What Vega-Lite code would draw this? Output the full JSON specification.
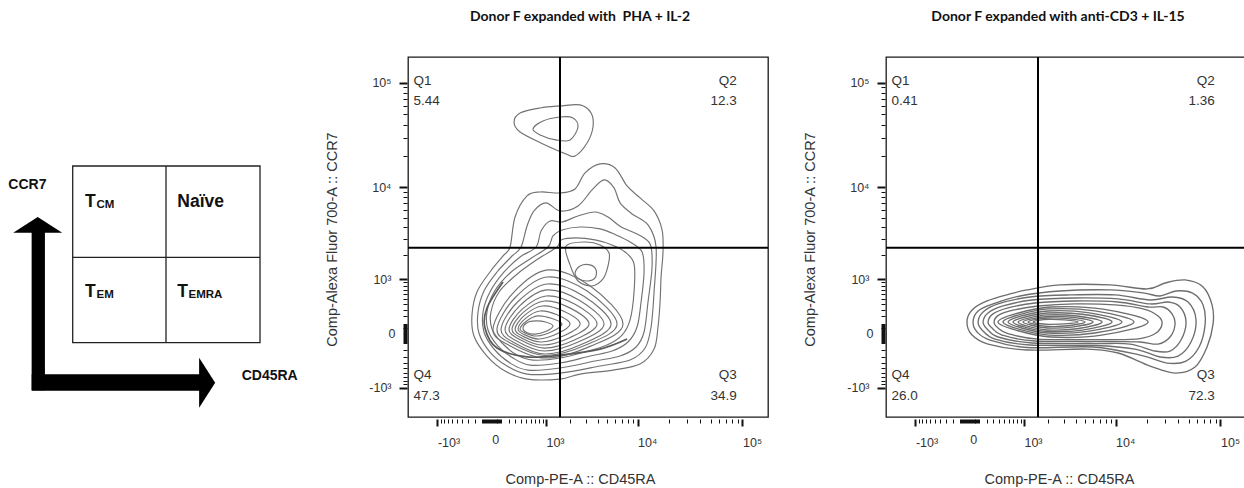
{
"$schema": "https://vega.github.io/schema/vega-lite/v6.json",
"background": "white",
"padding": {"left": 0, "top": 8, "right": 0, "bottom": 0},
"bounds": "flush",
"spacing": 118,
"config": {"font": "Liberation Sans", "view": {"stroke": "#1a1a1a", "strokeWidth": 1.3}},
"datasets": {
"schem": [
{"k":"box","x":25.07,"x2":89.66,"y":20.64,"y2":69.72},
{"k":"div","x":57.24,"x2":57.24,"y":20.64,"y2":69.72},
{"k":"div","x":25.07,"x2":89.66,"y":44.36,"y2":44.36},
{"k":"vbar","x":13.2,"x2":13.2,"y":7.42,"y2":51.4},
{"k":"hbar","x":10.93,"x2":68.97,"y":9.6,"y2":9.6},
{"k":"headUp","x":13.0,"y":53.37},
{"k":"headRight","x":71.43,"y":9.5},
{"k":"big","t":"T","x":29.31,"y":58.33},
{"k":"sub","t":"CM","x":33.28,"y":58.06},
{"k":"big","t":"Naïve","x":61.14,"y":58.33},
{"k":"big","t":"T","x":29.31,"y":33.33},
{"k":"sub","t":"EM","x":33.28,"y":32.92},
{"k":"big","t":"T","x":61.14,"y":33.33},
{"k":"sub","t":"EMRA","x":65.0,"y":32.92},
{"k":"lab","t":"CCR7","x":2.86,"y":63.25},
{"k":"lab","t":"CD45RA","x":83.34,"y":10.19}
],
"gates": [{"d":"x","x":1514},{"d":"y","y":2402}],
"quad": [
{"p":"pha","s":"l","t":"Q1","x":-1977,"y":94140},
{"p":"pha","s":"l","t":"5.44","x":-1977,"y":61010},
{"p":"pha","s":"r","t":"Q2","x":88200,"y":94140},
{"p":"pha","s":"r","t":"12.3","x":88200,"y":61010},
{"p":"pha","s":"l","t":"Q4","x":-1977,"y":-746},
{"p":"pha","s":"l","t":"47.3","x":-1977,"y":-1456},
{"p":"pha","s":"r","t":"Q3","x":88200,"y":-746},
{"p":"pha","s":"r","t":"34.9","x":88200,"y":-1456},
{"p":"cd3","s":"l","t":"Q1","x":-1977,"y":94140},
{"p":"cd3","s":"l","t":"0.41","x":-1977,"y":61010},
{"p":"cd3","s":"r","t":"Q2","x":88200,"y":94140},
{"p":"cd3","s":"r","t":"1.36","x":88200,"y":61010},
{"p":"cd3","s":"l","t":"Q4","x":-1977,"y":-746},
{"p":"cd3","s":"l","t":"26.0","x":-1977,"y":-1456},
{"p":"cd3","s":"r","t":"Q3","x":88200,"y":-746},
{"p":"cd3","s":"r","t":"72.3","x":88200,"y":-1456}
],
"p1open": [
{"c":"cres","i":1,"x":125,"y":911},{"c":"cres","i":2,"x":-48,"y":328},{"c":"cres","i":3,"x":-70,"y":55},{"c":"cres","i":4,"x":55,"y":-168},{"c":"cres","i":5,"x":515,"y":-299},{"c":"cres","i":6,"x":1517,"y":-269},{"c":"cres","i":7,"x":4210,"y":-182},{"c":"cres","i":8,"x":7886,"y":-59}
],
"p1": [
{"c":"L1","i":1,"x":219,"y":2446},{"c":"L1","i":2,"x":295,"y":5079},{"c":"L1","i":3,"x":515,"y":8254},{"c":"L1","i":4,"x":828,"y":9029},{"c":"L1","i":5,"x":1517,"y":8835},{"c":"L1","i":6,"x":2268,"y":9676},{"c":"L1","i":7,"x":2922,"y":13842},{"c":"L1","i":8,"x":4210,"y":16912},{"c":"L1","i":9,"x":5989,"y":15469},{"c":"L1","i":10,"x":7886,"y":10348},{"c":"L1","i":11,"x":10589,"y":7886},{"c":"L1","i":12,"x":14472,"y":5849},{"c":"L1","i":13,"x":17282,"y":3733},{"c":"L1","i":14,"x":17652,"y":2150},{"c":"L1","i":15,"x":16912,"y":1066},{"c":"L1","i":16,"x":16541,"y":434},{"c":"L1","i":17,"x":15801,"y":66},{"c":"L1","i":18,"x":14472,"y":-182},{"c":"L1","i":19,"x":10589,"y":-423},{"c":"L1","i":20,"x":5709,"y":-544},{"c":"L1","i":21,"x":2578,"y":-633},{"c":"L1","i":22,"x":1517,"y":-756},{"c":"L1","i":23,"x":515,"y":-756},{"c":"L1","i":24,"x":151,"y":-565},{"c":"L1","i":25,"x":-48,"y":-284},{"c":"L1","i":26,"x":-209,"y":-27},{"c":"L1","i":27,"x":-238,"y":219},{"c":"L1","i":28,"x":-168,"y":647},{"c":"L1","i":29,"x":-17,"y":1239},{"c":"L1","i":30,"x":125,"y":1937},
{"c":"L2","i":1,"x":398,"y":2446},{"c":"L2","i":2,"x":515,"y":4108},{"c":"L2","i":3,"x":672,"y":5849},{"c":"L2","i":4,"x":1004,"y":7035},{"c":"L2","i":5,"x":1517,"y":5849},{"c":"L2","i":6,"x":2446,"y":6566},{"c":"L2","i":7,"x":3469,"y":9461},{"c":"L2","i":8,"x":4627,"y":11846},{"c":"L2","i":9,"x":5849,"y":9892},{"c":"L2","i":10,"x":6722,"y":7035},{"c":"L2","i":11,"x":8835,"y":5457},{"c":"L2","i":12,"x":12649,"y":4210},{"c":"L2","i":13,"x":15137,"y":2446},{"c":"L2","i":14,"x":14472,"y":647},{"c":"L2","i":15,"x":13544,"y":66},{"c":"L2","i":16,"x":11846,"y":-168},{"c":"L2","i":17,"x":8448,"y":-351},{"c":"L2","i":18,"x":4210,"y":-461},{"c":"L2","i":19,"x":1517,"y":-610},{"c":"L2","i":20,"x":515,"y":-633},{"c":"L2","i":21,"x":177,"y":-461},{"c":"L2","i":22,"x":-17,"y":-223},{"c":"L2","i":23,"x":-142,"y":3},{"c":"L2","i":24,"x":-154,"y":263},{"c":"L2","i":25,"x":-81,"y":672},{"c":"L2","i":26,"x":55,"y":1239},{"c":"L2","i":27,"x":234,"y":1884},
{"c":"L3","i":1,"x":722,"y":2446},{"c":"L3","i":2,"x":855,"y":3642},{"c":"L3","i":3,"x":1135,"y":4627},{"c":"L3","i":4,"x":1602,"y":4514},{"c":"L3","i":5,"x":2446,"y":5205},{"c":"L3","i":6,"x":3733,"y":5709},{"c":"L3","i":7,"x":5079,"y":5079},{"c":"L3","i":8,"x":6879,"y":4007},{"c":"L3","i":9,"x":9892,"y":3387},{"c":"L3","i":10,"x":13245,"y":2643},{"c":"L3","i":11,"x":13842,"y":1431},{"c":"L3","i":12,"x":12649,"y":434},{"c":"L3","i":13,"x":11578,"y":13},{"c":"L3","i":14,"x":9676,"y":-154},{"c":"L3","i":15,"x":6722,"y":-284},{"c":"L3","i":16,"x":3733,"y":-368},{"c":"L3","i":17,"x":1517,"y":-501},{"c":"L3","i":18,"x":535,"y":-544},{"c":"L3","i":19,"x":219,"y":-404},{"c":"L3","i":20,"x":24,"y":-182},{"c":"L3","i":21,"x":-81,"y":13},{"c":"L3","i":22,"x":-92,"y":263},{"c":"L3","i":23,"x":-17,"y":647},{"c":"L3","i":24,"x":138,"y":1239},{"c":"L3","i":25,"x":380,"y":1884},
{"c":"L4","i":1,"x":1066,"y":2446},{"c":"L4","i":2,"x":1239,"y":3224},{"c":"L4","i":3,"x":1602,"y":3733},{"c":"L4","i":4,"x":2578,"y":4007},{"c":"L4","i":5,"x":4210,"y":3825},{"c":"L4","i":6,"x":6130,"y":3306},{"c":"L4","i":7,"x":8448,"y":2775},{"c":"L4","i":8,"x":11070,"y":2150},{"c":"L4","i":9,"x":11578,"y":1239},{"c":"L4","i":10,"x":10829,"y":434},{"c":"L4","i":11,"x":9892,"y":66},{"c":"L4","i":12,"x":8060,"y":-92},{"c":"L4","i":13,"x":5583,"y":-209},{"c":"L4","i":14,"x":3306,"y":-284},{"c":"L4","i":15,"x":1517,"y":-404},{"c":"L4","i":16,"x":580,"y":-442},{"c":"L4","i":17,"x":263,"y":-316},{"c":"L4","i":18,"x":66,"y":-142},{"c":"L4","i":19,"x":-37,"y":34},{"c":"L4","i":20,"x":-48,"y":263},{"c":"L4","i":21,"x":24,"y":647},{"c":"L4","i":22,"x":219,"y":1204},{"c":"L4","i":23,"x":580,"y":1788},
{"c":"L5","i":1,"x":1393,"y":2446},{"c":"L5","i":2,"x":1559,"y":2922},{"c":"L5","i":3,"x":2328,"y":3069},{"c":"L5","i":4,"x":3733,"y":2922},{"c":"L5","i":5,"x":5583,"y":2578},{"c":"L5","i":6,"x":7539,"y":2150},{"c":"L5","i":7,"x":9245,"y":1559},{"c":"L5","i":8,"x":9245,"y":647},{"c":"L5","i":9,"x":8448,"y":151},{"c":"L5","i":10,"x":7035,"y":-17},{"c":"L5","i":11,"x":4966,"y":-129},{"c":"L5","i":12,"x":3142,"y":-209},{"c":"L5","i":13,"x":1517,"y":-316},{"c":"L5","i":14,"x":647,"y":-351},{"c":"L5","i":15,"x":328,"y":-269},{"c":"L5","i":16,"x":113,"y":-104},{"c":"L5","i":17,"x":3,"y":45},{"c":"L5","i":18,"x":-7,"y":263},{"c":"L5","i":19,"x":78,"y":647},{"c":"L5","i":20,"x":312,"y":1135},{"c":"L5","i":21,"x":772,"y":1788},
{"c":"L6","i":1,"x":1788,"y":2512},{"c":"L6","i":2,"x":2922,"y":2775},{"c":"L6","i":3,"x":4210,"y":2578},{"c":"L6","i":4,"x":5205,"y":2097},{"c":"L6","i":5,"x":5079,"y":1474},{"c":"L6","i":6,"x":4514,"y":1004},{"c":"L6","i":7,"x":3469,"y":800},{"c":"L6","i":8,"x":2446,"y":942},{"c":"L6","i":9,"x":1990,"y":1517},
{"c":"isl","i":1,"x":2268,"y":1204},{"c":"isl","i":2,"x":2578,"y":1474},{"c":"isl","i":3,"x":3306,"y":1517},{"c":"isl","i":4,"x":3825,"y":1316},{"c":"isl","i":5,"x":3733,"y":1035},{"c":"isl","i":6,"x":3142,"y":942},{"c":"isl","i":7,"x":2512,"y":1004},
{"c":"top1","i":1,"x":279,"y":42435},{"c":"top1","i":2,"x":380,"y":51667},{"c":"top1","i":3,"x":828,"y":57600},{"c":"top1","i":4,"x":1517,"y":60160},{"c":"top1","i":5,"x":2578,"y":61509},{"c":"top1","i":6,"x":3387,"y":51667},{"c":"top1","i":7,"x":3551,"y":38052},{"c":"top1","i":8,"x":3069,"y":26842},{"c":"top1","i":9,"x":2268,"y":20171},{"c":"top1","i":10,"x":1788,"y":21089},{"c":"top1","i":11,"x":911,"y":26273},{"c":"top1","i":12,"x":380,"y":34117},
{"c":"top2","i":1,"x":647,"y":36478},{"c":"top2","i":2,"x":911,"y":43412},{"c":"top2","i":3,"x":1517,"y":47318},{"c":"top2","i":4,"x":2150,"y":46341},{"c":"top2","i":5,"x":2446,"y":38052},{"c":"top2","i":6,"x":1990,"y":28680},{"c":"top2","i":7,"x":1354,"y":28680},{"c":"top2","i":8,"x":828,"y":31997},
{"c":"r10","i":1,"x":13,"y":45},{"c":"r10","i":2,"x":256,"y":611},{"c":"r10","i":3,"x":1054,"y":1316},{"c":"r10","i":4,"x":3347,"y":794},{"c":"r10","i":5,"x":7191,"y":101},{"c":"r10","i":6,"x":3347,"y":-143},{"c":"r10","i":7,"x":973,"y":-316},{"c":"r10","i":8,"x":199,"y":-129},
{"c":"r9","i":1,"x":55,"y":45},{"c":"r9","i":2,"x":295,"y":519},{"c":"r9","i":3,"x":1047,"y":1066},{"c":"r9","i":4,"x":3069,"y":670},{"c":"r9","i":5,"x":6270,"y":101},{"c":"r9","i":6,"x":3069,"y":-123},{"c":"r9","i":7,"x":973,"y":-276},{"c":"r9","i":8,"x":240,"y":-112},
{"c":"r8","i":1,"x":101,"y":45},{"c":"r8","i":2,"x":336,"y":434},{"c":"r8","i":3,"x":1041,"y":855},{"c":"r8","i":4,"x":2812,"y":557},{"c":"r8","i":5,"x":5457,"y":101},{"c":"r8","i":6,"x":2812,"y":-111},{"c":"r8","i":7,"x":973,"y":-253},{"c":"r8","i":8,"x":282,"y":-101},
{"c":"r7","i":1,"x":151,"y":45},{"c":"r7","i":2,"x":378,"y":369},{"c":"r7","i":3,"x":1023,"y":697},{"c":"r7","i":4,"x":2528,"y":470},{"c":"r7","i":5,"x":4627,"y":101},{"c":"r7","i":6,"x":2528,"y":-87},{"c":"r7","i":7,"x":961,"y":-209},{"c":"r7","i":8,"x":326,"y":-82},
{"c":"r6","i":1,"x":205,"y":45},{"c":"r6","i":2,"x":420,"y":308},{"c":"r6","i":3,"x":1004,"y":557},{"c":"r6","i":4,"x":2268,"y":391},{"c":"r6","i":5,"x":3916,"y":101},{"c":"r6","i":6,"x":2268,"y":-66},{"c":"r6","i":7,"x":948,"y":-168},{"c":"r6","i":8,"x":373,"y":-64},
{"c":"r5","i":1,"x":248,"y":45},{"c":"r5","i":2,"x":445,"y":260},{"c":"r5","i":3,"x":951,"y":454},{"c":"r5","i":4,"x":1977,"y":329},{"c":"r5","i":5,"x":3224,"y":101},{"c":"r5","i":6,"x":1977,"y":-44},{"c":"r5","i":7,"x":905,"y":-129},{"c":"r5","i":8,"x":402,"y":-46},
{"c":"r4","i":1,"x":295,"y":45},{"c":"r4","i":2,"x":469,"y":216},{"c":"r4","i":3,"x":892,"y":362},{"c":"r4","i":4,"x":1681,"y":273},{"c":"r4","i":5,"x":2578,"y":101},{"c":"r4","i":6,"x":1681,"y":-24},{"c":"r4","i":7,"x":855,"y":-92},{"c":"r4","i":8,"x":430,"y":-29},
{"c":"r3","i":1,"x":344,"y":45},{"c":"r3","i":2,"x":491,"y":174},{"c":"r3","i":3,"x":822,"y":279},{"c":"r3","i":4,"x":1393,"y":221},{"c":"r3","i":5,"x":1990,"y":101},{"c":"r3","i":6,"x":1393,"y":-5},{"c":"r3","i":7,"x":794,"y":-59},{"c":"r3","i":8,"x":459,"y":-12},
{"c":"r2","i":1,"x":380,"y":45},{"c":"r2","i":2,"x":501,"y":135},{"c":"r2","i":3,"x":762,"y":205},{"c":"r2","i":4,"x":1187,"y":172},{"c":"r2","i":5,"x":1602,"y":101},{"c":"r2","i":6,"x":1187,"y":15},{"c":"r2","i":7,"x":742,"y":-27},{"c":"r2","i":8,"x":474,"y":4},
{"c":"r1","i":1,"x":434,"y":55},{"c":"r1","i":2,"x":525,"y":119},{"c":"r1","i":3,"x":712,"y":138},{"c":"r1","i":4,"x":989,"y":125},{"c":"r1","i":5,"x":1239,"y":78},{"c":"r1","i":6,"x":989,"y":18},{"c":"r1","i":7,"x":697,"y":-7},{"c":"r1","i":8,"x":507,"y":8}
],
"p2": [
{"c":"R1","i":1,"x":-27,"y":125},{"c":"R1","i":2,"x":24,"y":295},{"c":"R1","i":3,"x":205,"y":454},{"c":"R1","i":4,"x":625,"y":602},{"c":"R1","i":5,"x":1101,"y":697},{"c":"R1","i":6,"x":2709,"y":828},{"c":"R1","i":7,"x":8835,"y":828},{"c":"R1","i":8,"x":20171,"y":722},{"c":"R1","i":9,"x":29949,"y":883},{"c":"R1","i":10,"x":46341,"y":973},{"c":"R1","i":11,"x":68562,"y":772},{"c":"R1","i":12,"x":83306,"y":380},{"c":"R1","i":13,"x":85171,"y":101},{"c":"R1","i":14,"x":74745,"y":-154},{"c":"R1","i":15,"x":57600,"y":-480},{"c":"R1","i":16,"x":37265,"y":-610},{"c":"R1","i":17,"x":21548,"y":-461},{"c":"R1","i":18,"x":10589,"y":-238},{"c":"R1","i":19,"x":5205,"y":-182},{"c":"R1","i":20,"x":1101,"y":-195},{"c":"R1","i":21,"x":219,"y":-117},{"c":"R1","i":22,"x":24,"y":-17},
{"c":"R2","i":1,"x":34,"y":125},{"c":"R2","i":2,"x":90,"y":279},{"c":"R2","i":3,"x":295,"y":398},{"c":"R2","i":4,"x":883,"y":557},{"c":"R2","i":5,"x":2709,"y":672},{"c":"R2","i":6,"x":8835,"y":697},{"c":"R2","i":7,"x":18476,"y":625},{"c":"R2","i":8,"x":26842,"y":557},{"c":"R2","i":9,"x":38052,"y":672},{"c":"R2","i":10,"x":53965,"y":625},{"c":"R2","i":11,"x":68562,"y":380},{"c":"R2","i":12,"x":71568,"y":90},{"c":"R2","i":13,"x":62858,"y":-154},{"c":"R2","i":14,"x":47318,"y":-368},{"c":"R2","i":15,"x":31290,"y":-404},{"c":"R2","i":16,"x":17282,"y":-269},{"c":"R2","i":17,"x":5989,"y":-154},{"c":"R2","i":18,"x":1101,"y":-161},{"c":"R2","i":19,"x":248,"y":-70},{"c":"R2","i":20,"x":78,"y":13},
{"c":"R3","i":1,"x":90,"y":125},{"c":"R3","i":2,"x":151,"y":263},{"c":"R3","i":3,"x":380,"y":398},{"c":"R3","i":4,"x":1204,"y":535},{"c":"R3","i":5,"x":3469,"y":580},{"c":"R3","i":6,"x":9892,"y":580},{"c":"R3","i":7,"x":21548,"y":474},{"c":"R3","i":8,"x":34904,"y":535},{"c":"R3","i":9,"x":49492,"y":434},{"c":"R3","i":10,"x":58811,"y":151},{"c":"R3","i":11,"x":52754,"y":-92},{"c":"R3","i":12,"x":39805,"y":-284},{"c":"R3","i":13,"x":26842,"y":-299},{"c":"R3","i":14,"x":15469,"y":-182},{"c":"R3","i":15,"x":6270,"y":-135},{"c":"R3","i":16,"x":1204,"y":-129},{"c":"R3","i":17,"x":328,"y":-59},{"c":"R3","i":18,"x":138,"y":34},
{"c":"R4","i":1,"x":151,"y":125},{"c":"R4","i":2,"x":219,"y":248},{"c":"R4","i":3,"x":474,"y":362},{"c":"R4","i":4,"x":1277,"y":474},{"c":"R4","i":5,"x":3916,"y":515},{"c":"R4","i":6,"x":10589,"y":495},{"c":"R4","i":7,"x":21548,"y":398},{"c":"R4","i":8,"x":31997,"y":434},{"c":"R4","i":9,"x":41558,"y":344},{"c":"R4","i":10,"x":47318,"y":125},{"c":"R4","i":11,"x":42435,"y":-70},{"c":"R4","i":12,"x":33410,"y":-209},{"c":"R4","i":13,"x":24053,"y":-209},{"c":"R4","i":14,"x":13842,"y":-117},{"c":"R4","i":15,"x":6270,"y":-111},{"c":"R4","i":16,"x":1277,"y":-104},{"c":"R4","i":17,"x":380,"y":-37},{"c":"R4","i":18,"x":205,"y":45},
{"c":"R5","i":1,"x":219,"y":125},{"c":"R5","i":2,"x":295,"y":234},{"c":"R5","i":3,"x":580,"y":328},{"c":"R5","i":4,"x":1393,"y":416},{"c":"R5","i":5,"x":3916,"y":454},{"c":"R5","i":6,"x":10589,"y":434},{"c":"R5","i":7,"x":20630,"y":344},{"c":"R5","i":8,"x":28680,"y":344},{"c":"R5","i":9,"x":34904,"y":234},{"c":"R5","i":10,"x":37265,"y":101},{"c":"R5","i":11,"x":33410,"y":-37},{"c":"R5","i":12,"x":25703,"y":-117},{"c":"R5","i":13,"x":17282,"y":-92},{"c":"R5","i":14,"x":8835,"y":-87},{"c":"R5","i":15,"x":1393,"y":-81},{"c":"R5","i":16,"x":454,"y":-17},{"c":"R5","i":17,"x":279,"y":55},
{"c":"R6","i":1,"x":312,"y":125},{"c":"R6","i":2,"x":398,"y":219},{"c":"R6","i":3,"x":722,"y":295},{"c":"R6","i":4,"x":1517,"y":362},{"c":"R6","i":5,"x":3916,"y":398},{"c":"R6","i":6,"x":9892,"y":380},{"c":"R6","i":7,"x":18476,"y":312},{"c":"R6","i":8,"x":25703,"y":205},{"c":"R6","i":9,"x":28046,"y":101},{"c":"R6","i":10,"x":24564,"y":3},{"c":"R6","i":11,"x":17282,"y":-54},{"c":"R6","i":12,"x":8835,"y":-65},{"c":"R6","i":13,"x":1517,"y":-59},{"c":"R6","i":14,"x":580,"y":-2},{"c":"R6","i":15,"x":380,"y":55},
{"c":"R7","i":1,"x":380,"y":125},{"c":"R7","i":2,"x":772,"y":237},{"c":"R7","i":3,"x":2123,"y":344},{"c":"R7","i":4,"x":7539,"y":308},{"c":"R7","i":5,"x":20630,"y":125},{"c":"R7","i":6,"x":7539,"y":-15},{"c":"R7","i":7,"x":2123,"y":-37},{"c":"R7","i":8,"x":772,"y":32},
{"c":"R8","i":1,"x":474,"y":125},{"c":"R8","i":2,"x":847,"y":221},{"c":"R8","i":3,"x":2038,"y":312},{"c":"R8","i":4,"x":6228,"y":280},{"c":"R8","i":5,"x":15137,"y":125},{"c":"R8","i":6,"x":6228,"y":3},{"c":"R8","i":7,"x":2038,"y":-17},{"c":"R8","i":8,"x":847,"y":43},
{"c":"R9","i":1,"x":580,"y":125},{"c":"R9","i":2,"x":933,"y":205},{"c":"R9","i":3,"x":1985,"y":279},{"c":"R9","i":4,"x":5306,"y":254},{"c":"R9","i":5,"x":11578,"y":125},{"c":"R9","i":6,"x":5306,"y":20},{"c":"R9","i":7,"x":1985,"y":3},{"c":"R9","i":8,"x":933,"y":55},
{"c":"R10","i":1,"x":697,"y":125},{"c":"R10","i":2,"x":1032,"y":190},{"c":"R10","i":3,"x":1972,"y":248},{"c":"R10","i":4,"x":4661,"y":229},{"c":"R10","i":5,"x":9245,"y":125},{"c":"R10","i":6,"x":4661,"y":33},{"c":"R10","i":7,"x":1972,"y":18},{"c":"R10","i":8,"x":1032,"y":64},
{"c":"R11","i":1,"x":828,"y":125},{"c":"R11","i":2,"x":1139,"y":175},{"c":"R11","i":3,"x":1958,"y":219},{"c":"R11","i":4,"x":4088,"y":204},{"c":"R11","i":5,"x":7365,"y":125},{"c":"R11","i":6,"x":4088,"y":47},{"c":"R11","i":7,"x":1958,"y":34},{"c":"R11","i":8,"x":1139,"y":73},
{"c":"R12","i":1,"x":973,"y":125},{"c":"R12","i":2,"x":1254,"y":164},{"c":"R12","i":3,"x":1964,"y":197},{"c":"R12","i":4,"x":3642,"y":186},{"c":"R12","i":5,"x":5989,"y":125},{"c":"R12","i":6,"x":3642,"y":65},{"c":"R12","i":7,"x":1964,"y":55},{"c":"R12","i":8,"x":1254,"y":86},
{"c":"R13","i":1,"x":1135,"y":125},{"c":"R13","i":2,"x":1385,"y":154},{"c":"R13","i":3,"x":1990,"y":177},{"c":"R13","i":4,"x":3297,"y":169},{"c":"R13","i":5,"x":4966,"y":125},{"c":"R13","i":6,"x":3297,"y":80},{"c":"R13","i":7,"x":1990,"y":72},{"c":"R13","i":8,"x":1385,"y":96},
{"c":"R14","i":1,"x":1316,"y":125},{"c":"R14","i":2,"x":1534,"y":146},{"c":"R14","i":3,"x":2030,"y":158},{"c":"R14","i":4,"x":3032,"y":152},{"c":"R14","i":5,"x":4210,"y":125},{"c":"R14","i":6,"x":3032,"y":101},{"c":"R14","i":7,"x":2030,"y":96},{"c":"R14","i":8,"x":1534,"y":106}
]
},
"hconcat": [
{
"width": 290, "height": 360,
"view": {"stroke": null},
"data": {"name": "schem"},
"encoding": {
"x": {"field": "x", "type": "quantitative", "scale": {"domain": [0, 100], "nice": false, "zero": false}, "axis": null},
"y": {"field": "y", "type": "quantitative", "scale": {"domain": [0, 100], "nice": false, "zero": false}, "axis": null}
},
"layer": [
{"transform": [{"filter": "datum.k == 'box'"}], "mark": {"type": "rect", "filled": false, "stroke": "#222", "strokeWidth": 1.3}, "encoding": {"x2": {"field": "x2"}, "y2": {"field": "y2"}}},
{"transform": [{"filter": "datum.k == 'div'"}], "mark": {"type": "rule", "stroke": "#222", "strokeWidth": 1.3}, "encoding": {"x2": {"field": "x2"}, "y2": {"field": "y2"}}},
{"transform": [{"filter": "datum.k == 'vbar'"}], "mark": {"type": "rule", "stroke": "#000", "strokeWidth": 13.3, "strokeCap": "butt"}, "encoding": {"x2": {"field": "x2"}, "y2": {"field": "y2"}}},
{"transform": [{"filter": "datum.k == 'hbar'"}], "mark": {"type": "rule", "stroke": "#000", "strokeWidth": 16.5, "strokeCap": "butt"}, "encoding": {"x2": {"field": "x2"}, "y2": {"field": "y2"}}},
{"transform": [{"filter": "datum.k == 'headUp'"}], "mark": {"type": "point", "shape": "M-1,0.32L1,0.32L0,-0.32Z", "size": 2401, "filled": true, "color": "#000", "opacity": 1, "strokeWidth": 0}},
{"transform": [{"filter": "datum.k == 'headRight'"}], "mark": {"type": "point", "shape": "M-0.32,-1L0.32,0L-0.32,1Z", "size": 2500, "filled": true, "color": "#000", "opacity": 1, "strokeWidth": 0}},
{"transform": [{"filter": "datum.k == 'big'"}], "mark": {"type": "text", "align": "left", "baseline": "alphabetic", "fontSize": 17.5, "fontWeight": "bold", "color": "#111"}, "encoding": {"text": {"field": "t"}}},
{"transform": [{"filter": "datum.k == 'sub'"}], "mark": {"type": "text", "align": "left", "baseline": "alphabetic", "fontSize": 11.5, "fontWeight": "bold", "color": "#111"}, "encoding": {"text": {"field": "t"}}},
{"transform": [{"filter": "datum.k == 'lab'"}], "mark": {"type": "text", "align": "left", "baseline": "alphabetic", "fontSize": 14, "fontWeight": "bold", "color": "#111"}, "encoding": {"text": {"field": "t"}}}
]
},
{
"width": 360, "height": 360,
"title": {"text": "Donor F expanded with\u00a0 PHA + IL-2", "font": "Lato", "fontWeight": "bold", "fontSize": 14, "color": "#111", "offset": 21.5, "baseline": "alphabetic", "anchor": "middle", "dx": -8},
"layer": [
{"data": {"name": "p1"}, "mark": {"type": "line", "interpolate": "cardinal-closed", "stroke": "#727272", "strokeWidth": 1.15},
"encoding": {
"x": {"field": "x", "type": "quantitative", "scale": {"type": "symlog", "constant": 450, "domain": [-2283, 173660], "nice": false, "zero": false},
"axis": {"title": "Comp-PE-A :: CD45RA", "tickCount": 200, "values": [-1000,-900,-800,-700,-600,-500,-400,-300,-200,-100,-90,-80,-70,-60,-50,-40,-30,-20,-10,0,10,20,30,40,50,60,70,80,90,100,200,300,400,500,600,700,800,900,1000,2000,3000,4000,5000,6000,7000,8000,9000,10000,20000,30000,40000,50000,60000,70000,80000,90000,100000],
"labelExpr": "datum.value == 100000 ? '10⁵' : datum.value == 10000 ? '10⁴' : datum.value == 1000 ? '10³' : datum.value == -1000 ? '-10³' : datum.value == 0 ? '0' : ''",
"tickSize": {"condition": {"test": "abs(datum.value) == 1000 || datum.value == 10000 || datum.value == 100000", "value": 7}, "value": 4},
"tickWidth": {"condition": {"test": "abs(datum.value) == 1000 || datum.value == 10000 || datum.value == 100000", "value": 2}, "value": 1},
"tickColor": "#111", "offset": 2, "domain": false, "grid": false,
"labelAlign": "left", "labelBaseline": "alphabetic", "labelPadding": 20, "labelFontSize": 12.5, "labelColor": "#333", "labelOverlap": false, "labelFlush": false,
"titleFontSize": 14.5, "titleFontWeight": "normal", "titleColor": "#333", "titleX": 172, "titleY": 64, "titleBaseline": "alphabetic", "titleAlign": "center"}},
"y": {"field": "y", "type": "quantitative", "scale": {"type": "symlog", "constant": 450, "domain": [-2283, 173660], "nice": false, "zero": false},
"axis": {"title": "Comp-Alexa Fluor 700-A :: CCR7", "tickCount": 200, "values": [-1000,-900,-800,-700,-600,-500,-400,-300,-200,-100,-90,-80,-70,-60,-50,-40,-30,-20,-10,0,10,20,30,40,50,60,70,80,90,100,200,300,400,500,600,700,800,900,1000,2000,3000,4000,5000,6000,7000,8000,9000,10000,20000,30000,40000,50000,60000,70000,80000,90000,100000],
"labelExpr": "datum.value == 100000 ? '10⁵' : datum.value == 10000 ? '10⁴' : datum.value == 1000 ? '10³' : datum.value == -1000 ? '-10³' : datum.value == 0 ? '0' : ''",
"tickSize": {"condition": {"test": "abs(datum.value) == 1000 || datum.value == 10000 || datum.value == 100000", "value": 8}, "value": 4},
"tickWidth": {"condition": {"test": "abs(datum.value) == 1000 || datum.value == 10000 || datum.value == 100000", "value": 2}, "value": 1},
"tickColor": "#111", "offset": 1, "domain": false, "grid": false,
"labelPadding": 8, "labelFontSize": 12.5, "labelColor": "#333", "labelOverlap": false, "labelFlush": false,
"titleFontSize": 14.5, "titleFontWeight": "normal", "titleColor": "#333", "titleX": -71, "titleY": 182, "titleAngle": -90, "titleBaseline": "alphabetic", "titleAlign": "center"}},
"detail": {"field": "c", "type": "nominal"},
"order": {"field": "i", "type": "quantitative"}
}},
{"data": {"name": "p1open"}, "mark": {"type": "line", "interpolate": "cardinal", "stroke": "#5a5a5a", "strokeWidth": 1.7},
"encoding": {"x": {"field": "x", "type": "quantitative"}, "y": {"field": "y", "type": "quantitative"}, "detail": {"field": "c", "type": "nominal"}, "order": {"field": "i", "type": "quantitative"}}},
{"data": {"name": "gates"}, "transform": [{"filter": "datum.d == 'x'"}], "mark": {"type": "rule", "stroke": "#000", "strokeWidth": 2}, "encoding": {"x": {"field": "x", "type": "quantitative"}}},
{"data": {"name": "gates"}, "transform": [{"filter": "datum.d == 'y'"}], "mark": {"type": "rule", "stroke": "#000", "strokeWidth": 2}, "encoding": {"y": {"field": "y", "type": "quantitative"}}},
{"data": {"name": "quad"}, "transform": [{"filter": "datum.p == 'pha' && datum.s == 'l'"}], "mark": {"type": "text", "align": "left", "baseline": "alphabetic", "fontSize": 13.5, "color": "#333"}, "encoding": {"x": {"field": "x", "type": "quantitative"}, "y": {"field": "y", "type": "quantitative"}, "text": {"field": "t"}}},
{"data": {"name": "quad"}, "transform": [{"filter": "datum.p == 'pha' && datum.s == 'r'"}], "mark": {"type": "text", "align": "right", "baseline": "alphabetic", "fontSize": 13.5, "color": "#333"}, "encoding": {"x": {"field": "x", "type": "quantitative"}, "y": {"field": "y", "type": "quantitative"}, "text": {"field": "t"}}}
]
},
{
"width": 360, "height": 360,
"title": {"text": "Donor F expanded with anti-CD3 + IL-15", "font": "Lato", "fontWeight": "bold", "fontSize": 14, "color": "#111", "offset": 21.5, "baseline": "alphabetic", "anchor": "middle", "dx": -8},
"layer": [
{"data": {"name": "p2"}, "mark": {"type": "line", "interpolate": "cardinal-closed", "stroke": "#6e6e6e", "strokeWidth": 1.35},
"encoding": {
"x": {"field": "x", "type": "quantitative", "scale": {"type": "symlog", "constant": 450, "domain": [-2283, 173660], "nice": false, "zero": false},
"axis": {"title": "Comp-PE-A :: CD45RA", "tickCount": 200, "values": [-1000,-900,-800,-700,-600,-500,-400,-300,-200,-100,-90,-80,-70,-60,-50,-40,-30,-20,-10,0,10,20,30,40,50,60,70,80,90,100,200,300,400,500,600,700,800,900,1000,2000,3000,4000,5000,6000,7000,8000,9000,10000,20000,30000,40000,50000,60000,70000,80000,90000,100000],
"labelExpr": "datum.value == 100000 ? '10⁵' : datum.value == 10000 ? '10⁴' : datum.value == 1000 ? '10³' : datum.value == -1000 ? '-10³' : datum.value == 0 ? '0' : ''",
"tickSize": {"condition": {"test": "abs(datum.value) == 1000 || datum.value == 10000 || datum.value == 100000", "value": 7}, "value": 4},
"tickWidth": {"condition": {"test": "abs(datum.value) == 1000 || datum.value == 10000 || datum.value == 100000", "value": 2}, "value": 1},
"tickColor": "#111", "offset": 2, "domain": false, "grid": false,
"labelAlign": "left", "labelBaseline": "alphabetic", "labelPadding": 20, "labelFontSize": 12.5, "labelColor": "#333", "labelOverlap": false, "labelFlush": false,
"titleFontSize": 14.5, "titleFontWeight": "normal", "titleColor": "#333", "titleX": 173, "titleY": 64, "titleBaseline": "alphabetic", "titleAlign": "center"}},
"y": {"field": "y", "type": "quantitative", "scale": {"type": "symlog", "constant": 450, "domain": [-2283, 173660], "nice": false, "zero": false},
"axis": {"title": "Comp-Alexa Fluor 700-A :: CCR7", "tickCount": 200, "values": [-1000,-900,-800,-700,-600,-500,-400,-300,-200,-100,-90,-80,-70,-60,-50,-40,-30,-20,-10,0,10,20,30,40,50,60,70,80,90,100,200,300,400,500,600,700,800,900,1000,2000,3000,4000,5000,6000,7000,8000,9000,10000,20000,30000,40000,50000,60000,70000,80000,90000,100000],
"labelExpr": "datum.value == 100000 ? '10⁵' : datum.value == 10000 ? '10⁴' : datum.value == 1000 ? '10³' : datum.value == -1000 ? '-10³' : datum.value == 0 ? '0' : ''",
"tickSize": {"condition": {"test": "abs(datum.value) == 1000 || datum.value == 10000 || datum.value == 100000", "value": 8}, "value": 4},
"tickWidth": {"condition": {"test": "abs(datum.value) == 1000 || datum.value == 10000 || datum.value == 100000", "value": 2}, "value": 1},
"tickColor": "#111", "offset": 1, "domain": false, "grid": false,
"labelPadding": 8, "labelFontSize": 12.5, "labelColor": "#333", "labelOverlap": false, "labelFlush": false,
"titleFontSize": 14.5, "titleFontWeight": "normal", "titleColor": "#333", "titleX": -71, "titleY": 182, "titleAngle": -90, "titleBaseline": "alphabetic", "titleAlign": "center"}},
"detail": {"field": "c", "type": "nominal"},
"order": {"field": "i", "type": "quantitative"}
}},
{"data": {"name": "gates"}, "transform": [{"filter": "datum.d == 'x'"}], "mark": {"type": "rule", "stroke": "#000", "strokeWidth": 2}, "encoding": {"x": {"field": "x", "type": "quantitative"}}},
{"data": {"name": "gates"}, "transform": [{"filter": "datum.d == 'y'"}], "mark": {"type": "rule", "stroke": "#000", "strokeWidth": 2}, "encoding": {"y": {"field": "y", "type": "quantitative"}}},
{"data": {"name": "quad"}, "transform": [{"filter": "datum.p == 'cd3' && datum.s == 'l'"}], "mark": {"type": "text", "align": "left", "baseline": "alphabetic", "fontSize": 13.5, "color": "#333"}, "encoding": {"x": {"field": "x", "type": "quantitative"}, "y": {"field": "y", "type": "quantitative"}, "text": {"field": "t"}}},
{"data": {"name": "quad"}, "transform": [{"filter": "datum.p == 'cd3' && datum.s == 'r'"}], "mark": {"type": "text", "align": "right", "baseline": "alphabetic", "fontSize": 13.5, "color": "#333"}, "encoding": {"x": {"field": "x", "type": "quantitative"}, "y": {"field": "y", "type": "quantitative"}, "text": {"field": "t"}}}
]
}
]
}
